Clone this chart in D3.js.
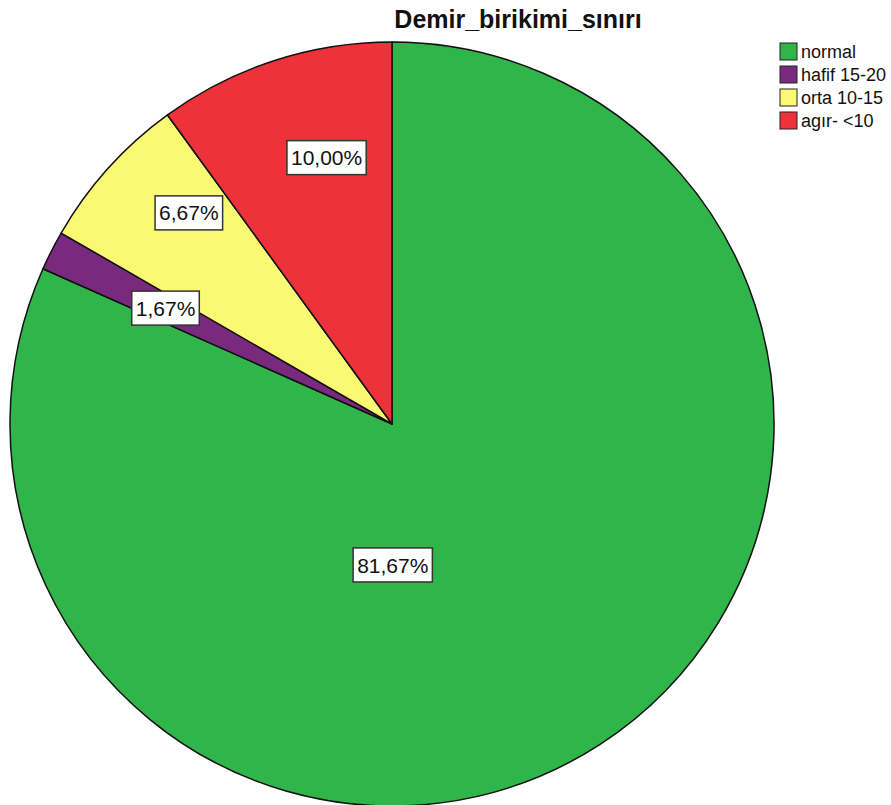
<!DOCTYPE html>
<html>
<head>
<meta charset="utf-8">
<script src="https://cdn.jsdelivr.net/npm/d3@7"></script>
<style>
  body { margin: 0; background: #fff; }
  svg { display: block; font-family: "Liberation Sans", Arial, sans-serif; }
</style>
</head>
<body>
<div class="pie-container"></div>
<script>
// kategori, yüzde ve renkler
const categories = ['normal', 'hafif 15-20', 'orta 10-15', 'agır- <10'];
const percents = [81.67, 1.67, 6.67, 10.00];
const colors = ['#2fb54a', '#7a2a7e', '#fbf874', '#ee323c'];

// etiket kutularının dilim üzerindeki yeri (açı derece, yarıçap oranı)
const labelAnchors = [
    {angle: 179.7, r: 0.369},
    {angle: -62.9, r: 0.666},
    {angle: -43.9, r: 0.767},
    {angle: -13.8, r: 0.718}
];

const fmt = v => d3.format('.2f')(v).replace('.', ',') + '%';

function setupCanvas(){
    const svg_width = 891;
    const svg_height = 805;
    const cx = 392, cy = 424, radius = 382;

    const svg = d3.select('.pie-container')
                  .append('svg')
                  .attr('width', svg_width).attr('height', svg_height);

    const data = categories.map((c, i) => ({name: c, value: percents[i], color: colors[i]}));

    const pie = d3.pie().sort(null).value(d => d.value);
    const arc = d3.arc().innerRadius(0).outerRadius(radius);

    const g = svg.append('g').attr('transform', `translate(${cx},${cy})`);

    g.selectAll('.slice')
     .data(pie(data))
     .enter()
     .append('path')
     .attr('class', 'slice')
     .attr('d', arc)
     .style('fill', d => d.data.color)
     .style('stroke', '#111')
     .style('stroke-width', 1.5)
     .style('stroke-linejoin', 'round');

    // yüzde etiketleri
    const labels = g.selectAll('.pct')
                    .data(data)
                    .enter()
                    .append('g')
                    .attr('class', 'pct')
                    .attr('transform', (d, i) => {
                        const a = labelAnchors[i].angle * Math.PI / 180;
                        const r = labelAnchors[i].r * radius;
                        return `translate(${r * Math.sin(a)},${-r * Math.cos(a)})`;
                    });

    labels.append('rect');
    labels.append('text')
          .text(d => fmt(d.value))
          .attr('text-anchor', 'middle')
          .attr('dy', '0.36em')
          .style('font-size', '21px')
          .style('fill', '#111');

    labels.each(function(){
        const grp = d3.select(this);
        const bb = grp.select('text').node().getBBox();
        grp.select('rect')
           .attr('x', bb.x - 4).attr('y', -17)
           .attr('width', bb.width + 8).attr('height', 34)
           .style('fill', '#fff')
           .style('stroke', '#333')
           .style('stroke-width', 1.5);
    });

    // başlık
    svg.append('text')
       .attr('x', 518).attr('y', 28)
       .attr('text-anchor', 'middle')
       .style('font-size', '25px')
       .style('font-weight', 'bold')
       .style('fill', '#111')
       .text('Demir_birikimi_sınırı');

    // lejant
    const legend = svg.append('g').attr('transform', 'translate(780,43)');
    const items = legend.selectAll('.item')
                        .data(data)
                        .enter()
                        .append('g')
                        .attr('class', 'item')
                        .attr('transform', (d, i) => `translate(0,${i * 23})`);
    items.append('rect')
         .attr('width', 17).attr('height', 17)
         .style('fill', d => d.color)
         .style('stroke', '#222')
         .style('stroke-width', 1);
    items.append('text')
         .attr('x', 21).attr('y', 8.5)
         .attr('dy', '0.36em')
         .style('font-size', '18px')
         .style('fill', '#111')
         .text(d => d.name);
}

setupCanvas();
</script>
</body>
</html>
